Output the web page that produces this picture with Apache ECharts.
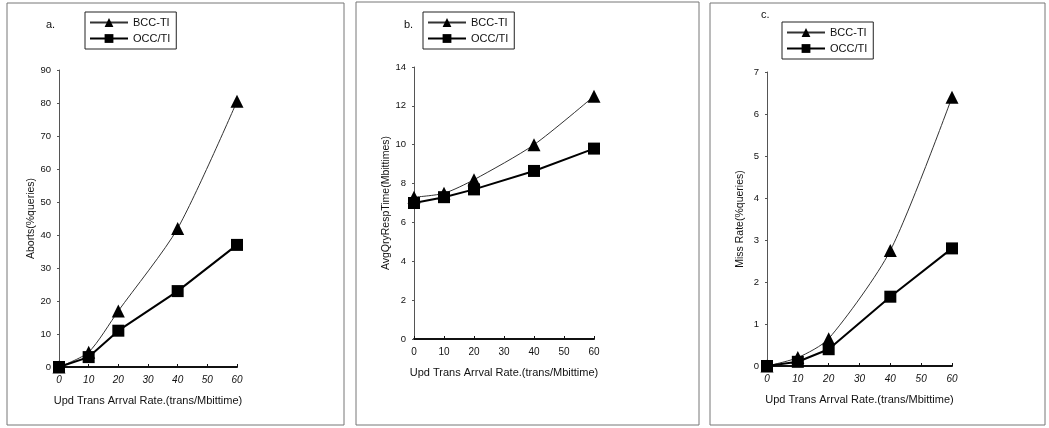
<!DOCTYPE html>
<html>
<head>
<meta charset="utf-8">
<script src="https://cdn.jsdelivr.net/npm/echarts@6/dist/echarts.min.js"></script>
<style>
  html, body { margin: 0; padding: 0; background: #fff; }
  #chart { width: 1049px; height: 428px; }
</style>
</head>
<body>
<div id="chart"></div>
<script>
// x positions shared by all three panels
var rates = [0, 10, 20, 40, 60];

// a. Aborts (%queries)
var abortsBCC = [0, 4.5, 17, 42, 80.5];
var abortsOCC = [0, 3, 11, 23, 37];

// b. AvgQryRespTime (Mbittimes)
var respBCC = [7.3, 7.5, 8.2, 10, 12.5];
var respOCC = [7.0, 7.3, 7.7, 8.65, 9.8];

// c. Miss Rate (%queries)
var missBCC = [0, 0.2, 0.65, 2.75, 6.4];
var missOCC = [0, 0.1, 0.4, 1.65, 2.8];

var FONT = '"Liberation Sans", Arial, sans-serif';

function pairs(ys) {
  return rates.map(function (x, i) { return [x, ys[i]]; });
}

// panel layout: grid box, legend position, letter label, frame
var panels = [
  { grid: { left: 59, top: 70, width: 178, height: 297 }, yMax: 90, yInt: 10,
    yName: 'Aborts(%queries)', nameGap: 21, italic: true, letter: 'a.', lx: 46, ly: 19,
    legend: { left: 85, top: 12 }, frame: [7, 3, 337, 422],
    bcc: abortsBCC, occ: abortsOCC },
  { grid: { left: 414, top: 67, width: 180, height: 272 }, yMax: 14, yInt: 2,
    yName: 'AvgQryRespTime(Mbittimes)', nameGap: 20, italic: false, letter: 'b.', lx: 404, ly: 19,
    legend: { left: 423, top: 12 }, frame: [356, 2, 343, 423],
    bcc: respBCC, occ: respOCC },
  { grid: { left: 767, top: 72, width: 185, height: 294 }, yMax: 7, yInt: 1,
    yName: 'Miss Rate(%queries)', nameGap: 21, italic: true, letter: 'c.', lx: 761, ly: 9,
    legend: { left: 782, top: 22 }, frame: [710, 3, 335, 422],
    bcc: missBCC, occ: missOCC }
];

var option = {
  animation: false,
  backgroundColor: '#fff',
  textStyle: { fontFamily: FONT },
  grid: [], xAxis: [], yAxis: [], series: [], legend: [], graphic: []
};

panels.forEach(function (p, i) {
  option.grid.push(p.grid);
  option.xAxis.push({
    type: 'value', gridIndex: i, min: 0, max: 60, interval: 10,
    name: 'Upd Trans Arrval Rate.(trans/Mbittime)',
    nameLocation: 'middle', nameGap: 28,
    nameTextStyle: { color: '#111', fontSize: 11, fontFamily: FONT },
    axisLine: { onZero: false, lineStyle: { color: '#111', width: 2 } },
    axisTick: { show: true, inside: true, length: 3, lineStyle: { color: '#111' } },
    axisLabel: { color: '#111', fontSize: 10, margin: 8,
                 fontStyle: p.italic ? 'italic' : 'normal', fontFamily: FONT },
    splitLine: { show: false }
  });
  option.yAxis.push({
    type: 'value', gridIndex: i, min: 0, max: p.yMax, interval: p.yInt,
    name: p.yName, nameLocation: 'middle', nameGap: p.nameGap, nameRotate: 90,
    nameTextStyle: { color: '#111', fontSize: 10.5, fontFamily: FONT },
    axisLine: { show: true, lineStyle: { color: '#555', width: 1 } },
    axisTick: { show: true, length: 2, lineStyle: { color: '#555' } },
    axisLabel: { color: '#111', fontSize: 9.5, margin: 8, fontFamily: FONT },
    splitLine: { show: false }
  });
  option.series.push({
    name: 'BCC-TI', type: 'line', xAxisIndex: i, yAxisIndex: i,
    data: pairs(p.bcc), smooth: 0.25,
    symbol: 'triangle', symbolSize: 13,
    lineStyle: { color: '#333', width: 1 },
    itemStyle: { color: '#000' }
  });
  option.series.push({
    name: 'OCC/TI', type: 'line', xAxisIndex: i, yAxisIndex: i,
    data: pairs(p.occ),
    symbol: 'rect', symbolSize: 12,
    lineStyle: { color: '#000', width: 2 },
    itemStyle: { color: '#000' }
  });
  option.legend.push({
    left: p.legend.left, top: p.legend.top, orient: 'vertical',
    data: ['BCC-TI', 'OCC/TI'],
    itemWidth: 38, itemHeight: 11, itemGap: 5,
    padding: [5, 6, 5, 4],
    borderColor: '#222', borderWidth: 1,
    textStyle: { color: '#111', fontSize: 11, fontFamily: FONT }
  });
  option.graphic.push({
    type: 'rect', silent: true, z: -1,
    shape: { x: p.frame[0], y: p.frame[1], width: p.frame[2], height: p.frame[3] },
    style: { fill: 'none', stroke: '#777', lineWidth: 1 }
  });
  option.graphic.push({
    type: 'text', left: p.lx, top: p.ly, silent: true,
    style: { text: p.letter, fontSize: 11, fontFamily: FONT, fill: '#111' }
  });
});

var chart = echarts.init(document.getElementById('chart'), null, { renderer: 'canvas' });
chart.setOption(option);
</script>
</body>
</html>
